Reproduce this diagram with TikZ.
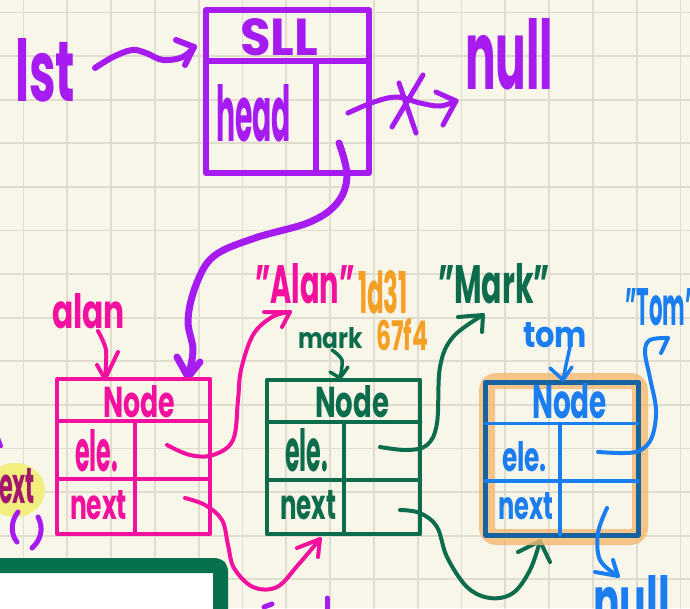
\documentclass[tikz,border=0pt]{standalone}
\usepackage{fontspec}
\setmainfont{Poppins}
\usepackage{graphicx}
\definecolor{bg}{HTML}{F8F5E9}
\definecolor{gridc}{HTML}{E0DDCE}
\definecolor{purp}{HTML}{A61CF0}
\definecolor{pink}{HTML}{F2109E}
\definecolor{dgreen}{HTML}{0C6C4C}
\definecolor{blue}{HTML}{1A7EF0}
\definecolor{dblue}{HTML}{1762A0}
\definecolor{orng}{HTML}{F4A024}
\definecolor{hilite}{HTML}{F3B870}
\definecolor{yel}{HTML}{F2EF7E}
\definecolor{maroon}{HTML}{A3186F}
\definecolor{wgreen}{HTML}{07704F}
\newcommand{\hw}[3]{\resizebox{#1pt}{#2pt}{\bfseries #3}}
\tikzset{
  lbl/.style={inner sep=0pt, outer sep=0pt, anchor=base west},
  cellbox/.style={draw, inner sep=0pt, outer sep=0pt},
  wire/.style={line width=4pt},
}
\begin{document}
\begin{tikzpicture}[x=1pt,y=-1pt,line cap=round,line join=round]
\useasboundingbox (0,0) rectangle (690,608);
\clip (0,0) rectangle (690,608);
\fill[bg] (0,0) rectangle (690,608);
\foreach \i in {0,...,15} \draw[gridc, line width=1.8pt] ({23.5+43.8*\i},0) -- ({23.5+43.8*\i},608);
\foreach \j in {0,...,13} \draw[gridc, line width=1.8pt] (0,{12.5+43.6*\j}) -- (690,{12.5+43.6*\j});

% ---- window at bottom left
\node[draw=wgreen, line width=15pt, fill=white, rounded corners=5pt, minimum width=260pt, minimum height=90pt, inner sep=0pt] (win) at (90.5,610.5) {};

% ---- left fragments
\fill[yel] (15,490) ellipse (30pt and 27pt);
\node[lbl, text=maroon] (nextL) at (-16,503) {\hw{51}{35}{next}};
\draw[purp, line width=5pt] (18,512) .. controls (10,522) and (11,535) .. (17,542);
\draw[purp, line width=5pt] (38,517) .. controls (44,528) and (41,540) .. (32,548);
\draw[purp, line width=4pt] (-2,438) -- (1,446);
\draw[purp, line width=5pt] (264,607) -- (272,604);
\draw[purp, line width=5pt] (327,598) -- (327,612);

% ---- SLL box
\node[cellbox, draw=purp, line width=6pt, minimum width=163pt, minimum height=163pt] (sll) at (287.5,91.5) {};
\draw[purp, line width=6pt] (206,61) -- (369,61);
\draw[purp, line width=6pt] (316,61) -- (316,173);
\node[lbl, text=purp] (sllT) at (240,55) {\hw{78}{37}{SLL}};
\node[lbl, text=purp] (headT) at (216,141) {\hw{75}{57}{head}};
\node[lbl, text=purp] (lst) at (15,101) {\hw{60}{63}{lst}};
\node[lbl, text=purp] (nullTop) at (465,89) {\hw{88}{71}{null}};

% lst -> SLL
\coordinate (lstA) at (95,68);
\coordinate (sllIn) at (194,47);
\draw[purp, line width=6pt] plot[smooth, tension=0.6] coordinates {(lstA) (113,57) (132,50) (146,53) (163,60) (183,57) (sllIn)};
\draw[purp, line width=6pt] (sllIn) -- (176,40) (sllIn) -- (185,65);

% head -> null (crossed)
\coordinate (headA) at (348,113);
\coordinate (nullTip) at (456,101);
\draw[purp, line width=5pt] plot[smooth, tension=0.6] coordinates {(headA) (374,102) (397,97) (420,103) (440,106) (nullTip)};
\draw[purp, line width=5pt] (nullTip) -- (436,92) (nullTip) -- (443,125);
\draw[purp, line width=5pt] (399,83) -- (416,133);
\draw[purp, line width=5pt] (423,75) -- (392,127);

% head pointer -> alan node
\coordinate (headB) at (339,143);
\coordinate (alanTop) at (188,377);
\draw[purp, line width=7pt] plot[smooth, tension=0.6] coordinates {(headB) (347,175) (338,202) (310,222) (255,238) (214,256) (196,285) (188,320) (193,350) (alanTop)};
\draw[purp, line width=7pt] (alanTop) -- (177,357) (alanTop) -- (200,362);

% ---- pink node (alan)
\node[cellbox, draw=pink, line width=4pt, minimum width=153pt, minimum height=155pt] (alanBox) at (133.5,456.5) {};
\draw[pink, line width=4pt] (57,421) -- (210,421) (57,479) -- (210,479) (135,421) -- (135,534);
\node[lbl, text=pink] (alanL) at (52,328) {\hw{73}{35}{alan}};
\node[lbl, text=pink] (alanNodeT) at (103,417) {\hw{72}{32}{Node}};
\node[lbl, text=pink] (alanEle) at (75,471) {\hw{43}{42}{ele.}};
\node[lbl, text=pink] (alanNext) at (70,519) {\hw{57}{29}{next}};
\node[lbl, text=pink] (alanStr) at (255,303) {\hw{100}{40}{"Alan"}};

\coordinate (alanLA) at (98,331);
\coordinate (alanLTip) at (105,379);
\draw[pink, wire] plot[smooth] coordinates {(alanLA) (106,350) (alanLTip)};
\draw[pink, wire] (alanLTip) -- (97,365) (alanLTip) -- (118,352);

\coordinate (pEle) at (167,445);
\coordinate (pEleTip) at (290,312);
\draw[pink, wire] plot[smooth, tension=0.6] coordinates {(pEle) (190,455) (213,455) (233,440) (238,400) (241,370) (253,335) (272,317) (pEleTip)};
\draw[pink, wire] (pEleTip) -- (264,312) (pEleTip) -- (282,327);

\coordinate (pNext) at (185,498);
\coordinate (pNextTip) at (320,539);
\draw[pink, wire] plot[smooth, tension=0.6] coordinates {(pNext) (205,505) (222,520) (228,545) (234,568) (253,587) (277,587) (298,565) (pNextTip)};
\draw[pink, wire] (pNextTip) -- (297,548) (pNextTip) -- (318,557);

% ---- green node (mark)
\node[cellbox, draw=dgreen, line width=4.5pt, minimum width=153pt, minimum height=154pt] (markBox) at (343.5,457) {};
\draw[dgreen, line width=4.5pt] (267,422) -- (420,422) (267,480) -- (420,480) (344,422) -- (344,534);
\node[lbl, text=dgreen] (markL) at (298,348) {\hw{65}{21}{mark}};
\node[lbl, text=dgreen] (markNodeT) at (315,417) {\hw{74}{32}{Node}};
\node[lbl, text=dgreen] (markEle) at (285,471) {\hw{43}{43}{ele.}};
\node[lbl, text=dgreen] (markNext) at (280,519) {\hw{56}{29}{next}};
\node[lbl, text=dgreen] (markStr) at (438,303) {\hw{112}{40}{"Mark"}};
\node[lbl, text=orng] (hash1) at (358,313) {\hw{50}{43}{1d31}};
\node[lbl, text=orng] (hash2) at (376,350) {\hw{52}{32}{67f4}};

\coordinate (markLA) at (332,350);
\coordinate (markLTip) at (340,378);
\draw[dgreen, line width=3.5pt] plot[smooth] coordinates {(markLA) (342,360) (markLTip)};
\draw[dgreen, line width=3.5pt] (markLTip) -- (330,372) (markLTip) -- (348,367);

\coordinate (gEle) at (380,447);
\coordinate (gEleTip) at (483,315);
\draw[dgreen, wire] plot[smooth, tension=0.6] coordinates {(gEle) (407,450) (427,445) (437,423) (440,367) (453,337) (gEleTip)};
\draw[dgreen, wire] (gEleTip) -- (458,317) (gEleTip) -- (482,332);

\coordinate (gNext) at (400,510);
\coordinate (gNextTip) at (540,541);
\draw[dgreen, wire] plot[smooth, tension=0.6] coordinates {(gNext) (420,513) (437,527) (447,557) (467,587) (490,598) (513,593) (530,570) (gNextTip)};
\draw[dgreen, wire] (gNextTip) -- (518,552) (gNextTip) -- (550,562);

% ---- blue node (tom) with highlight
\draw[hilite, opacity=0.8, line width=16pt, rounded corners=9pt] (487,381) rectangle (640,537);
\node[cellbox, draw=dblue, line width=5pt, minimum width=153pt, minimum height=153pt] (tomBox) at (561.5,458.5) {};
\draw[blue, line width=3.5pt] (485,423.5) -- (638,423.5) (485,481) -- (638,481) (560,423.5) -- (560,535);
\node[lbl, text=blue] (tomL) at (523,347) {\hw{64}{25}{tom}};
\node[lbl, text=blue] (tomNodeT) at (532,418) {\hw{75}{35}{Node}};
\node[lbl, text=blue] (tomEle) at (502,471) {\hw{45}{30}{ele.}};
\node[lbl, text=blue] (tomNext) at (498,519) {\hw{55}{27}{next}};
\node[lbl, text=blue] (tomStr) at (625,325) {\hw{72}{37}{"Tom"}};
\node[lbl, text=blue] (nullBot) at (593,625) {\hw{77}{50}{null}};

\coordinate (tomLA) at (570,347);
\coordinate (tomLTip) at (563,380);
\draw[blue, line width=3.5pt] plot[smooth] coordinates {(tomLA) (566,365) (tomLTip)};
\draw[blue, line width=3.5pt] (tomLTip) -- (550,368) (tomLTip) -- (572,367);

\coordinate (bEle) at (598,452);
\coordinate (bEleTip) at (668,338);
\draw[blue, wire] plot[smooth, tension=0.6] coordinates {(bEle) (625,453) (641,450) (652,437) (656,410) (650,378) (645,352) (650,340) (bEleTip)};
\draw[blue, wire] (bEleTip) -- (661,353);

\coordinate (bNext) at (607,508);
\coordinate (bNextTip) at (618,576);
\draw[blue, wire] plot[smooth, tension=0.6] coordinates {(bNext) (598,533) (600,560) (bNextTip)};
\draw[blue, wire] (bNextTip) -- (595,572) (bNextTip) -- (613,560);
\end{tikzpicture}
\end{document}
